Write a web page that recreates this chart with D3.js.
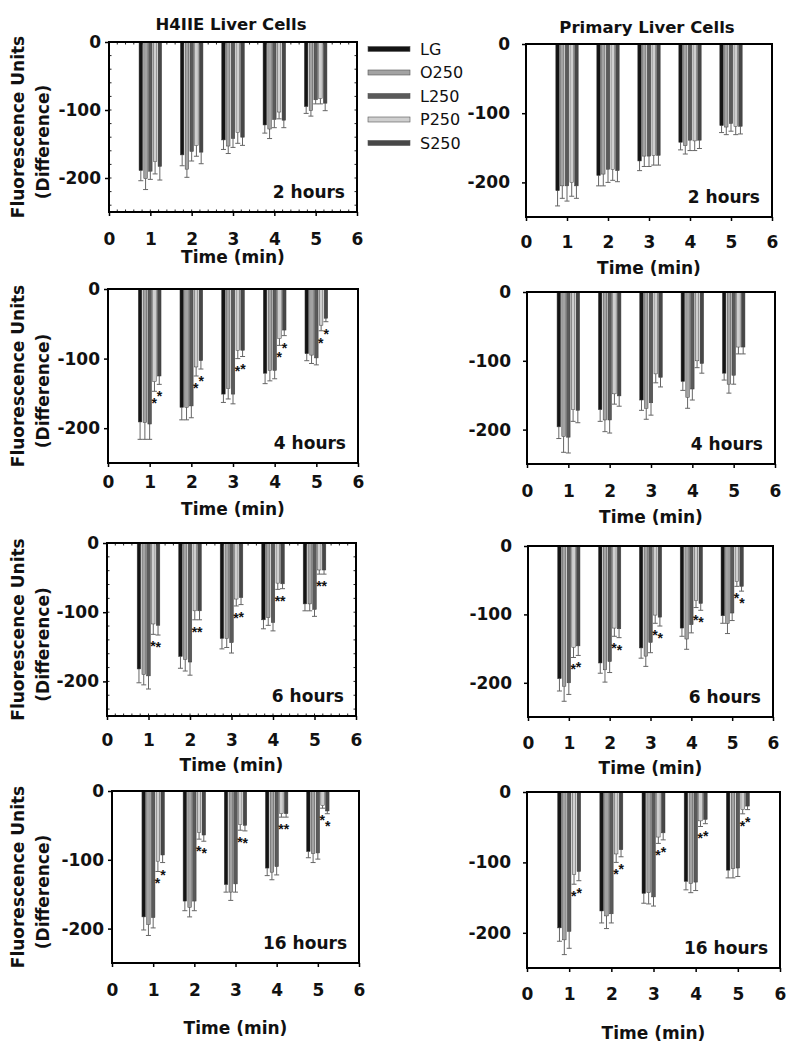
<!DOCTYPE html>
<html><head><meta charset="utf-8">
<script src="https://cdn.jsdelivr.net/npm/d3@7"></script>
<style>body{margin:0;background:#fff} text{font-family:"DejaVu Sans",sans-serif}</style>
</head><body><svg id="c" width="796" height="1050"></svg>
<script>
// ---------- data ----------
const times = [1, 2, 3, 4, 5];
const series = ["LG", "O250", "L250", "P250", "S250"];
const yTicks = [0, -100, -200];
const xTicks = [0, 1, 2, 3, 4, 5, 6];
const starSeries = ["P250", "S250"];

// rows: LG, O250, L250, P250, S250 ; columns: time 1..5
const h4iie2hMean = [[-189,-166,-144,-122,-95],[-201,-187,-153,-128,-101],[-190,-161,-142,-114,-85],[-176,-152,-133,-103,-83],[-183,-162,-140,-115,-90]];
const h4iie2hErr  = [[15,16,14,12,10],[16,12,11,14,8],[12,14,13,12,6],[18,16,16,10,8],[20,17,12,11,11]];
const primary2hMean = [[-212,-190,-169,-142,-118],[-205,-188,-162,-147,-120],[-205,-181,-162,-139,-115],[-200,-181,-161,-140,-119],[-205,-183,-161,-139,-119]];
const primary2hErr  = [[22,15,14,11,10],[18,17,15,12,11],[22,19,15,15,11],[20,16,14,14,12],[18,16,14,12,11]];
const h4iie4hMean = [[-191,-170,-151,-121,-93],[-192,-170,-143,-117,-95],[-194,-168,-151,-117,-99],[-133,-112,-88,-71,-52],[-125,-103,-88,-59,-42]];
const h4iie4hErr  = [[25,18,12,15,10],[24,18,15,15,12],[22,17,14,12,10],[14,13,12,10,8],[12,12,9,8,5]];
const primary4hMean = [[-196,-171,-157,-130,-118],[-210,-186,-169,-153,-134],[-211,-186,-161,-141,-121],[-171,-148,-119,-100,-80],[-172,-151,-124,-104,-80]];
const primary4hErr  = [[17,17,15,13,10],[23,17,16,16,13],[23,19,18,16,13],[17,15,13,10,10],[18,15,14,14,10]];
const h4iie6hMean = [[-182,-164,-138,-111,-88],[-190,-168,-138,-108,-88],[-192,-172,-144,-115,-96],[-117,-98,-81,-58,-39],[-119,-98,-79,-59,-39]];
const h4iie6hErr  = [[20,17,15,13,10],[15,17,13,11,10],[19,19,15,12,10],[15,13,10,9,6],[14,13,10,7,6]];
const primary6hMean = [[-194,-171,-149,-120,-102],[-205,-181,-161,-136,-113],[-200,-169,-141,-115,-98],[-148,-120,-101,-80,-52],[-146,-121,-104,-84,-59]];
const primary6hErr  = [[18,15,15,12,11],[22,18,15,15,15],[17,16,15,12,11],[15,12,12,10,7],[14,13,13,10,7]];
const h4iie16hMean = [[-183,-160,-136,-112,-88],[-194,-169,-147,-118,-91],[-184,-160,-135,-110,-90],[-102,-60,-49,-33,-21],[-93,-64,-50,-33,-29]];
const h4iie16hErr  = [[19,14,11,11,9],[16,14,12,11,13],[15,14,12,12,9],[15,10,8,5,4],[11,9,8,5,4]];
const primary16hMean = [[-193,-169,-144,-127,-111],[-210,-176,-143,-130,-109],[-198,-173,-149,-128,-108],[-117,-88,-64,-41,-25],[-113,-82,-58,-39,-20]];
const primary16hErr  = [[19,17,14,12,11],[21,18,16,13,13],[24,13,13,12,12],[14,12,9,8,6],[13,10,10,6,5]];

// ---------- style / layout ----------
const colors = {LG:"#141414", O250:"#a3a3a3", L250:"#5a5a5a", P250:"#cfcfcf", S250:"#474747"};
const offsets = [-0.23, -0.115, 0, 0.115, 0.23];
const barW = 0.085;

const panels = [
  {mean:h4iie2hMean, err:h4iie2hErr, label:"2 hours", stars:false, box:[109,42,357,212], tickC:239, timeC:257, col:0, minor:true},
  {mean:primary2hMean, err:primary2hErr, label:"2 hours", stars:false, box:[526,44,772,217], tickC:242, timeC:268, col:1},
  {mean:h4iie4hMean, err:h4iie4hErr, label:"4 hours", stars:true, box:[108,289,358,463], tickC:482, timeC:509, col:0},
  {mean:primary4hMean, err:primary4hErr, label:"4 hours", stars:false, box:[527,292,775,464], tickC:491, timeC:517, col:1},
  {mean:h4iie6hMean, err:h4iie6hErr, label:"6 hours", stars:true, box:[107,543,356,716], tickC:740, timeC:765, col:0, minor:true},
  {mean:primary6hMean, err:primary6hErr, label:"6 hours", stars:true, box:[528,546,773,717], tickC:743, timeC:768, col:1},
  {mean:h4iie16hMean, err:h4iie16hErr, label:"16 hours", stars:true, box:[112,791,359,963], tickC:990, timeC:1028, col:0},
  {mean:primary16hMean, err:primary16hErr, label:"16 hours", stars:true, box:[527,792,780,968], tickC:994, timeC:1033, col:1}
];

const svg = d3.select("#c");

panels.forEach(p => {
  const [L, T, R, B] = p.box;
  const x = d3.scaleLinear().domain([0, 6]).range([L, R]);
  const y = d3.scaleLinear().domain([-250, 0]).range([B, T]);
  const g = svg.append("g");

  // minor ticks
  if (p.minor) {
    const mx = d3.range(0, 6.001, 0.2);
    const my = d3.range(-240, 0, 20);
    g.selectAll(".mxb").data(mx).join("line").attr("x1", d => x(d)).attr("x2", d => x(d)).attr("y1", B).attr("y2", B - 2.5).attr("stroke", "#222").attr("stroke-width", 1);
    g.selectAll(".mxt").data(mx).join("line").attr("x1", d => x(d)).attr("x2", d => x(d)).attr("y1", T).attr("y2", T + 2.5).attr("stroke", "#222").attr("stroke-width", 1);
    g.selectAll(".myl").data(my).join("line").attr("y1", d => y(d)).attr("y2", d => y(d)).attr("x1", L).attr("x2", L + 2.5).attr("stroke", "#222").attr("stroke-width", 1);
    g.selectAll(".myr").data(my).join("line").attr("y1", d => y(d)).attr("y2", d => y(d)).attr("x1", R).attr("x2", R - 2.5).attr("stroke", "#222").attr("stroke-width", 1);
  }

  series.forEach((s, si) => {
    const items = times.map((t, ti) => ({t, v: p.mean[si][ti], e: p.err[si][ti]}));
    const sg = g.append("g");
    // error bars
    sg.selectAll(".eb").data(items).join("line")
      .attr("x1", d => x(d.t + offsets[si])).attr("x2", d => x(d.t + offsets[si]))
      .attr("y1", d => y(d.v)).attr("y2", d => y(d.v - d.e))
      .attr("stroke", "#666").attr("stroke-width", 1);
    sg.selectAll(".ec").data(items).join("line")
      .attr("x1", d => x(d.t + offsets[si]) - 2.5).attr("x2", d => x(d.t + offsets[si]) + 2.5)
      .attr("y1", d => y(d.v - d.e)).attr("y2", d => y(d.v - d.e))
      .attr("stroke", "#666").attr("stroke-width", 1);
    // bars
    sg.selectAll("rect").data(items).join("rect")
      .attr("x", d => x(d.t + offsets[si] - barW / 2))
      .attr("width", d => x(barW) - x(0))
      .attr("y", y(0))
      .attr("height", d => y(d.v) - y(0))
      .attr("fill", colors[s]).attr("stroke", "#3a3a3a").attr("stroke-width", 0.5);
    // stars
    if (p.stars && starSeries.includes(s)) {
      sg.selectAll(".st").data(items).join("text")
        .attr("x", d => x(d.t + offsets[si]) + (s === "P250" ? -0.3 : 0.3))
        .attr("y", d => y(d.v - d.e) + 17)
        .attr("text-anchor", "middle")
        .style("font-family", "'Liberation Sans', Arial, sans-serif")
        .attr("font-size", 14).attr("font-weight", "bold").attr("fill", "#111")
        .text("*");
    }
  });

  // axes
  const xa = g.append("g").attr("transform", `translate(0,${B})`)
    .call(d3.axisBottom(x).tickValues(xTicks).tickSize(4).tickPadding(p.tickC - B - 10).tickFormat(d => String(d)));
  const ya = g.append("g").attr("transform", `translate(${L},0)`)
    .call(d3.axisLeft(y).tickValues(yTicks).tickSize(4).tickPadding(p.col === 0 ? 4 : 12).tickFormat(d => String(d)));
  [xa, ya].forEach(a => {
    a.select(".domain").remove();
    a.selectAll("line").attr("stroke", "#000").attr("stroke-width", 1.5);
    a.selectAll("text").attr("font-family", "DejaVu Sans").attr("font-weight", "bold").attr("font-size", 17).attr("fill", "#111");
  });

  // frame
  g.append("rect").attr("x", L).attr("y", T).attr("width", R - L).attr("height", B - T)
    .attr("fill", "none").attr("stroke", "#000").attr("stroke-width", 2);

  // hours label
  g.append("text").attr("x", R - 12).attr("y", B - 14).attr("text-anchor", "end")
    .attr("font-weight", "bold").attr("font-size", 17).attr("fill", "#111").text(p.label);

  // x title
  g.append("text").attr("x", (L + R) / 2).attr("y", p.timeC + 6).attr("text-anchor", "middle")
    .attr("font-weight", "bold").attr("font-size", 17).attr("fill", "#111").text("Time (min)");

  // y titles (left column only)
  if (p.col === 0) {
    const cy = (T + B) / 2;
    g.append("text").attr("transform", `translate(18,${cy}) rotate(-90)`).attr("text-anchor", "middle")
      .attr("dominant-baseline", "central").attr("font-weight", "bold").attr("font-size", 17).attr("fill", "#111")
      .text("Fluorescence Units");
    g.append("text").attr("transform", `translate(43,${cy + 15}) rotate(-90)`).attr("text-anchor", "middle")
      .attr("dominant-baseline", "central").attr("font-weight", "bold").attr("font-size", 17).attr("fill", "#111")
      .text("(Difference)");
  }
});

// column titles
svg.append("text").attr("x", 231).attr("y", 30).attr("text-anchor", "middle")
  .attr("font-weight", "bold").attr("font-size", 16.5).attr("fill", "#111").text("H4IIE Liver Cells");
svg.append("text").attr("x", 647).attr("y", 33).attr("text-anchor", "middle")
  .attr("font-weight", "bold").attr("font-size", 16.5).attr("fill", "#111").text("Primary Liver Cells");

// legend
const legY = d3.scalePoint().domain(series).range([49, 143]);
const leg = svg.append("g");
leg.selectAll("rect").data(series).join("rect")
  .attr("x", 368).attr("y", d => legY(d) - 2.5).attr("width", 42).attr("height", 5)
  .attr("fill", d => colors[d]).attr("stroke", "#555").attr("stroke-width", 0.6);
leg.selectAll("text").data(series).join("text")
  .attr("x", 420).attr("y", d => legY(d)).attr("dominant-baseline", "central")
  .attr("font-size", 16).attr("fill", "#111").text(d => d);
</script></body></html>
